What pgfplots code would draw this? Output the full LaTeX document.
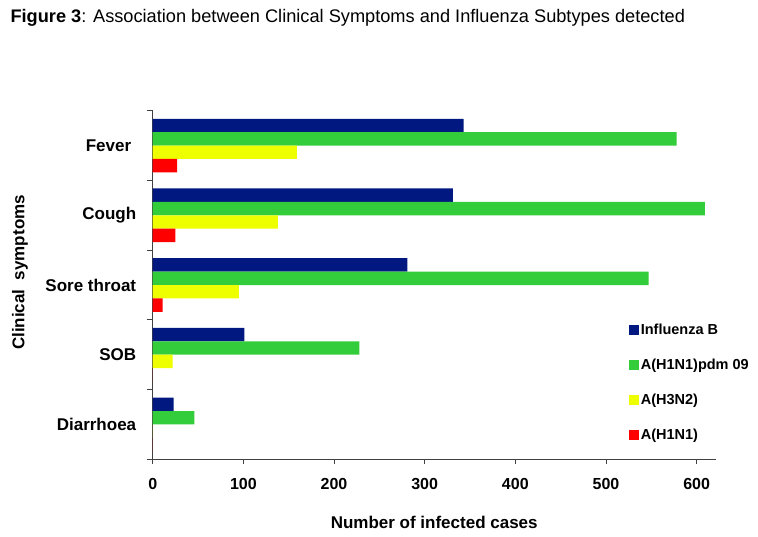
\documentclass[border=0pt]{standalone}
\usepackage{fontspec}
\setmainfont{Liberation Sans}
\usepackage{pgfplots}
\pgfplotsset{compat=1.18}
\definecolor{infb}{RGB}{0,24,128}
\definecolor{pdm}{RGB}{51,204,58}
\definecolor{hthree}{RGB}{238,255,0}
\definecolor{hone}{RGB}{255,0,0}
\definecolor{axisgray}{RGB}{64,64,64}

\begin{document}
\begin{tikzpicture}
\useasboundingbox (0,0) rectangle (758pt,536pt);
\node[anchor=base west, font=\fontsize{18.2}{20}\selectfont] at (7pt,513pt)
  {\textbf{Figure 3}: Association between Clinical Symptoms and Influenza Subtypes detected};
\begin{axis}[
    at={(152.7pt,76.7pt)}, anchor=south west,
    scale only axis, width=563pt, height=348.6pt,
    xbar, bar width=13.4pt,
    y dir=reverse,
    xmin=0, xmax=621, ymin=-0.5, ymax=4.5,
    axis x line*=bottom, axis y line*=left,
    axis line style={draw=axisgray, line width=0.9pt, -},
    tick align=outside,
    major tick length=5pt, minor tick length=6pt,
    every tick/.style={draw=axisgray, line width=0.9pt},
    major y tick style={draw=none},
    xtick={0,100,...,600},
    ytick={0,1,2,3,4},
    yticklabels={Fever\kern5pt,Cough,Sore throat,SOB,Diarrhoea},
    minor ytick={-0.5,0.5,1.5,2.5,3.5,4.5},
    /pgf/number format/assume math mode=true,
    xticklabel style={font=\bfseries\fontsize{16}{16}\selectfont, yshift=-10pt},
    yticklabel style={font=\bfseries\fontsize{17}{17}\selectfont, xshift=-8pt},
    xlabel={Number of infected cases},
    ylabel={Clinical\ \ symptoms},
    label style={font=\bfseries\fontsize{17}{17}\selectfont},
    xlabel style={at={(axis description cs:0.5,-0.18)}, anchor=center},
    ylabel style={at={(axis description cs:-0.2357,0.536)}, anchor=center},
    legend style={at={(0.84,0.40)}, anchor=north west, draw=none, fill=none,
        font=\bfseries\fontsize{14.5}{14.5}\selectfont, row sep=19pt},
    legend cell align=left,
    legend image code/.code={\fill[#1] (0pt,-5pt) rectangle (10pt,5pt);},
]
\addplot[fill=infb, draw=none, bar shift=20.1pt] coordinates {
    (343,0) (331,1) (281,2) (101,3) (23,4)};
\addplot[fill=pdm, draw=none, bar shift=6.7pt] coordinates {
    (578,0) (609,1) (547,2) (228,3) (46,4)};
\addplot[fill=hthree, draw=none, bar shift=-6.7pt] coordinates {
    (159,0) (138,1) (95,2) (22,3) (0,4)};
\addplot[fill=hone, draw=none, bar shift=-20.1pt] coordinates {
    (27,0) (25,1) (11,2) (0,3) (0,4)};
\legend{Influenza B, A(H1N1)pdm 09, A(H3N2), A(H1N1)}
\end{axis}
\end{tikzpicture}
\end{document}
